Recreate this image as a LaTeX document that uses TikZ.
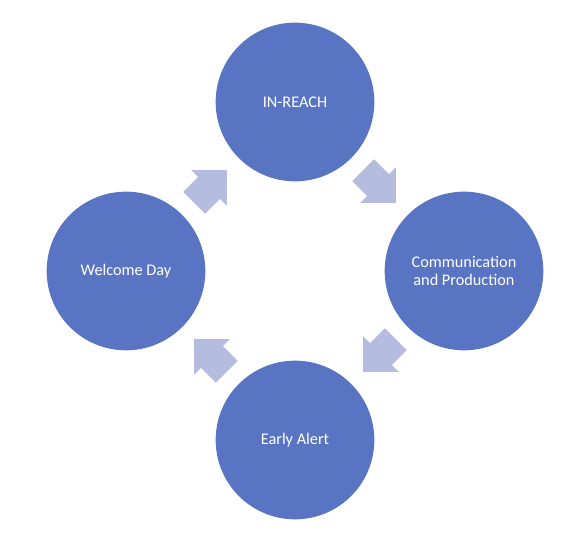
\documentclass[tikz,border=0pt]{standalone}
\usepackage{fontspec}
\setmainfont{Carlito}
\usetikzlibrary{calc}
\definecolor{CycBlue}{RGB}{88,116,194}
\definecolor{CycLight}{RGB}{180,189,223}

\begin{document}
\begin{tikzpicture}[
  x=0.75pt, y=0.75pt,
  stage/.style={circle, fill=CycBlue, minimum size=119pt, inner sep=0pt, align=center, text=white, font=\fontsize{12.2}{14}\selectfont},
  flowarrow/.pic={\fill[CycLight] (-23,-15.5) -- (-2,-15.5) -- (-2,-25) -- (23,0) -- (-2,25) -- (-2,15.5) -- (-23,15.5) -- cycle;}
]
\useasboundingbox (0,0) rectangle (579,553);
\node[stage] (inreach) at (295,451) {IN-REACH};
\node[stage] (comm) at (464,282) {Communication\\and Production};
\node[stage] (alert) at (295,113) {Early Alert};
\node[stage] (welcome) at (126,282) {Welcome Day};

% block arrows between the stages
\pic[rotate=-45] (flowA) at ($(inreach)!0.5!(comm)$) {flowarrow};
\pic[rotate=-135] (flowB) at ($(comm)!0.5!(alert)$) {flowarrow};
\pic[rotate=135] (flowC) at ($(alert)!0.5!(welcome)$) {flowarrow};
\pic[rotate=45] (flowD) at ($(welcome)!0.5!(inreach)$) {flowarrow};
\end{tikzpicture}
\end{document}
